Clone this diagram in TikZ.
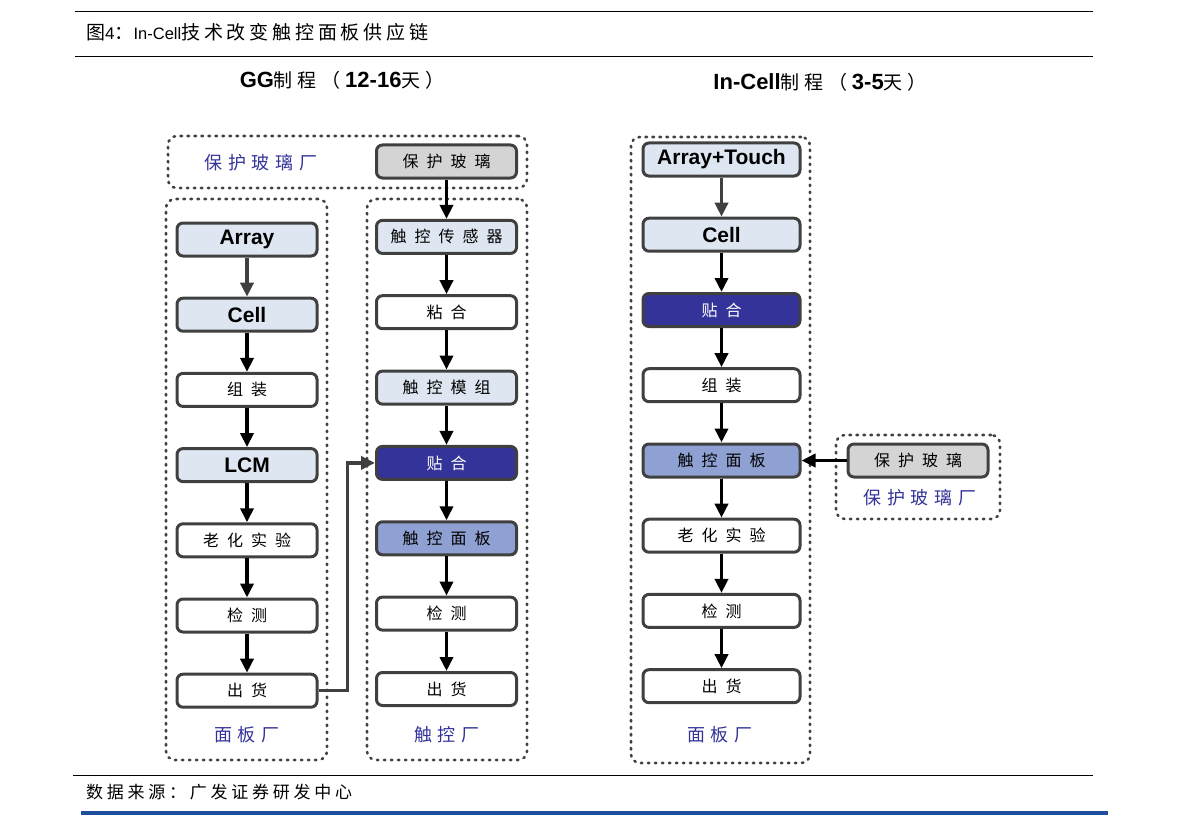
\documentclass[tikz,border=0pt]{standalone}
\usepackage{fontspec}
\setmainfont{Liberation Sans}
\newfontfamily\cjk{Noto Sans CJK SC}
\newfontfamily\cjkbox[LetterSpace=50]{Noto Sans CJK SC}
\newfontfamily\cjklab[LetterSpace=33]{Noto Sans CJK SC}
\newfontfamily\cjkhead[LetterSpace=25]{Noto Sans CJK SC}
\newfontfamily\cjktitle[LetterSpace=20]{Noto Sans CJK SC}
\newfontfamily\cjksrc[LetterSpace=22]{Noto Sans CJK SC}
\usetikzlibrary{arrows.meta}
\definecolor{edge}{HTML}{404040}
\definecolor{lightfill}{HTML}{DEE7F1}
\definecolor{greyfill}{HTML}{D4D4D4}
\definecolor{darkfill}{HTML}{333399}
\definecolor{midfill}{HTML}{8FA1D2}
\definecolor{labelblue}{HTML}{333399}
\definecolor{rulecol}{HTML}{1F4E9E}
\begin{document}
\begin{tikzpicture}[x=1pt,y=-1pt,
  >={Triangle[length=14pt,width=13pt]},
  box/.style={draw=edge, line width=3pt, rounded corners=6pt, minimum width=140pt, minimum height=33pt, inner sep=0pt, fill=white, font=\fontsize{16}{18}\selectfont\cjkbox},
  wide/.style={box, minimum width=157pt},
  latin/.style={font=\fontsize{21}{24}\selectfont\rmfamily\bfseries},
  light/.style={fill=lightfill},
  grey/.style={fill=greyfill},
  dark/.style={fill=darkfill, text=white},
  mid/.style={fill=midfill},
  group/.style={draw=edge, line width=2.6pt, line cap=round, dash pattern=on 1.5pt off 5.5pt, rounded corners=9pt, inner sep=0pt},
  plant/.style={text=labelblue, font=\fontsize{18}{20}\selectfont\cjklab},
  flow/.style={->, line width=3.5pt},
  greyflow/.style={flow, draw=edge}]
\useasboundingbox (0,0) rectangle (1191,824);

\draw[line width=1pt] (75,12) -- (1093,12);
\draw[line width=1pt] (75,57) -- (1093,57);
\draw[line width=1pt] (73,775) -- (1093,775);
\draw[rulecol, line width=3.5pt] (81,813) -- (1108,813);
\node[anchor=west, inner sep=0pt] (title) at (86,32) {\fontsize{19}{22}\selectfont\cjktitle 图{\fontsize{17}{20}\selectfont\rmfamily 4}：{\fontsize{16.5}{20}\selectfont\rmfamily In-Cell}技术改变触控面板供应链};
\node[anchor=west, inner sep=0pt] (src) at (86,792) {\fontsize{17}{20}\selectfont\cjksrc 数据来源：广发证券研发中心};

\node (hgg) at (342,80) {\fontsize{22}{26}\selectfont\textbf{GG}{\cjkhead\fontsize{19}{22}\selectfont 制程（}\textbf{12-16}{\cjkhead\fontsize{19}{22}\selectfont 天）}};
\node (hin) at (820,82) {\fontsize{22}{26}\selectfont\textbf{In-Cell}{\cjkhead\fontsize{19}{22}\selectfont 制程（}\textbf{3-5}{\cjkhead\fontsize{19}{22}\selectfont 天）}};

\node[group, minimum width=359pt, minimum height=52pt] (gg) at (347.5,162) {};
\node[group, minimum width=161pt, minimum height=561pt] (gp) at (246.5,479.5) {};
\node[group, minimum width=160pt, minimum height=561pt] (gt) at (447,479.5) {};
\node[group, minimum width=179pt, minimum height=626pt] (ip) at (720.5,450) {};
\node[group, minimum width=164pt, minimum height=84pt] (ig) at (918,477) {};

\node[plant] (ggl) at (261,163) {保护玻璃厂};
\node[plant] (gpl) at (247,735) {面板厂};
\node[plant] (gtl) at (447,735) {触控厂};
\node[plant] (ipl) at (720,735) {面板厂};
\node[plant] (igl) at (920,498) {保护玻璃厂};

\node[box, light, latin] (p1) at (247,239.5) {Array};
\node[box, light, latin] (p2) at (247,314.7) {Cell};
\node[box] (p3) at (247,389.9) {组装};
\node[box, light, latin] (p4) at (247,465.1) {LCM};
\node[box] (p5) at (247,540.3) {老化实验};
\node[box] (p6) at (247,615.5) {检测};
\node[box] (p7) at (247,690.7) {出货};

\node[box, grey] (t0) at (446.5,161.5) {保护玻璃};
\node[box, light] (t1) at (446.5,236.9) {触控传感器};
\node[box] (t2) at (446.5,312.2) {粘合};
\node[box, light] (t3) at (446.5,387.6) {触控模组};
\node[box, dark] (t4) at (446.5,462.9) {贴合};
\node[box, mid] (t5) at (446.5,538.3) {触控面板};
\node[box] (t6) at (446.5,613.6) {检测};
\node[box] (t7) at (446.5,689) {出货};

\node[wide, light, latin] (c1) at (721.5,159.5) {Array+Touch};
\node[wide, light, latin] (c2) at (721.5,234.7) {Cell};
\node[wide, dark] (c3) at (721.5,310) {贴合};
\node[wide] (c4) at (721.5,385.2) {组装};
\node[wide, mid] (c5) at (721.5,460.5) {触控面板};
\node[wide] (c6) at (721.5,535.7) {老化实验};
\node[wide] (c7) at (721.5,610.9) {检测};
\node[wide] (c8) at (721.5,686.2) {出货};

\node[box, grey] (g) at (918,460.5) {保护玻璃};

\draw[greyflow] (p1) -- (p2);
\foreach \a/\b in {p2/p3,p3/p4,p4/p5,p5/p6,p6/p7}
  \draw[flow] (\a) -- (\b);
\foreach \a/\b in {t0/t1,t1/t2,t2/t3,t3/t4,t4/t5,t5/t6,t6/t7}
  \draw[flow] (\a) -- (\b);
\draw[greyflow] (c1) -- (c2);
\foreach \a/\b in {c2/c3,c3/c4,c4/c5,c5/c6,c6/c7,c7/c8}
  \draw[flow] (\a) -- (\b);
\draw[flow] (g) -- (c5);
\draw[greyflow] (p7.east) -- ++(29,0) |- (t4.west);
\end{tikzpicture}
\end{document}
